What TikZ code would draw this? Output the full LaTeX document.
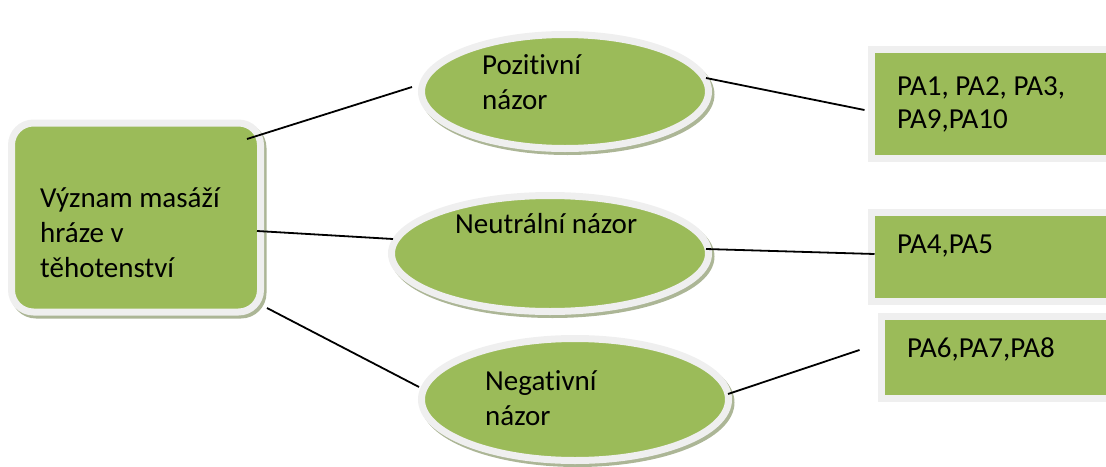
\documentclass[tikz,border=0pt]{standalone}
\usepackage{fontspec}
\setmainfont[Ligatures={NoCommon,NoRare,NoContextual},RawFeature={-liga;-calt;-clig;-dlig;-rlig}]{Carlito}
\usetikzlibrary{shapes.geometric,calc}

\definecolor{leaf}{HTML}{9BBB59}
\definecolor{rim}{HTML}{EFEFEF}
\definecolor{shade}{RGB}{172,182,150}

\tikzset{
  base shape/.style={fill=leaf, draw=rim, line width=7pt, inner sep=0pt},
  shaded/.style={preaction={fill=shade, draw=shade, line width=7pt,
      transform canvas={shift={(2.5pt,-3pt)}}}},
  oval/.style={base shape, shaded, ellipse},
  hubbox/.style={base shape, shaded, rectangle, rounded corners=22pt,
      minimum width=249pt, minimum height=189pt},
  tagbox/.style={base shape, rectangle, minimum width=255pt},
  label text/.style={anchor=base west, inner sep=0pt,
      font=\fontsize{29}{35}\selectfont},
  link/.style={draw=black, line width=1.8pt}
}

\newcommand{\stack}[2]{\vtop{\hbox{#1}\hbox{#2}}}
\newcommand{\stackiii}[3]{\vtop{\hbox{#1}\hbox{#2}\hbox{#3}}}

\begin{document}
\begin{tikzpicture}[x=1pt,y=-1pt]
  \useasboundingbox (0,0) rectangle (1106,466);
  \clip (0,0) rectangle (1106,466);

  % central topic
  \node[hubbox] (hub) at (136,217.5) {};

  % three opinion ovals
  \node[oval, minimum width=287pt, minimum height=114pt] (pos) at (565,91.5) {};
  \node[oval, minimum width=317pt, minimum height=116pt] (neu) at (550,253.5) {};
  \node[oval, minimum width=307pt, minimum height=122pt] (neg) at (575,399.5) {};

  % respondent lists
  \node[tagbox, minimum height=109.5pt] (lpos) at (999,103.75) {};
  \node[tagbox, minimum height=89pt]    (lneu) at (999,257) {};
  \node[tagbox, minimum height=81.5pt]  (lneg) at (1009,357.25) {};

  % connectors
  \draw[link] ($(hub.center)+(111,-78.5)$) -- ($(pos.center)+(-153,-4.5)$);
  \draw[link] ($(hub.center)+(121,13.5)$)  -- ($(neu.center)+(-157,-14.5)$);
  \draw[link] ($(hub.center)+(131,90.5)$)  -- ($(neg.center)+(-156,-12.5)$);
  \draw[link] ($(pos.center)+(141,-13.5)$) -- ($(lpos.west)+(-3.5,6.25)$);
  \draw[link] ($(neu.center)+(156,-4.5)$)  -- ($(lneu.west)+(6.5,-3)$);
  \draw[link] ($(neg.center)+(153,-5.5)$)  -- ($(lneg.west)+(-18.5,-7.25)$);

  % texts
  \node[label text] (thub) at (40,207) {\stackiii{Význam masáží}{hráze v}{těhotenství}};
  \node[label text] (tpos) at (482,74) {\stack{Pozitivní}{názor}};
  \node[label text] (tneu) at (455,233) {Neutrální názor};
  \node[label text] (tneg) at (485,390) {\stack{Negativní}{názor}};
  \node[label text] (tlpos) at (897,95) {\vtop{\baselineskip=33pt\hbox{PA1, PA2, PA3,}\hbox{PA9,PA10}}};
  \node[label text] (tlneu) at (897,253) {PA4,PA5};
  \node[label text] (tlneg) at (907,357) {PA6,PA7,PA8};
\end{tikzpicture}
\end{document}
